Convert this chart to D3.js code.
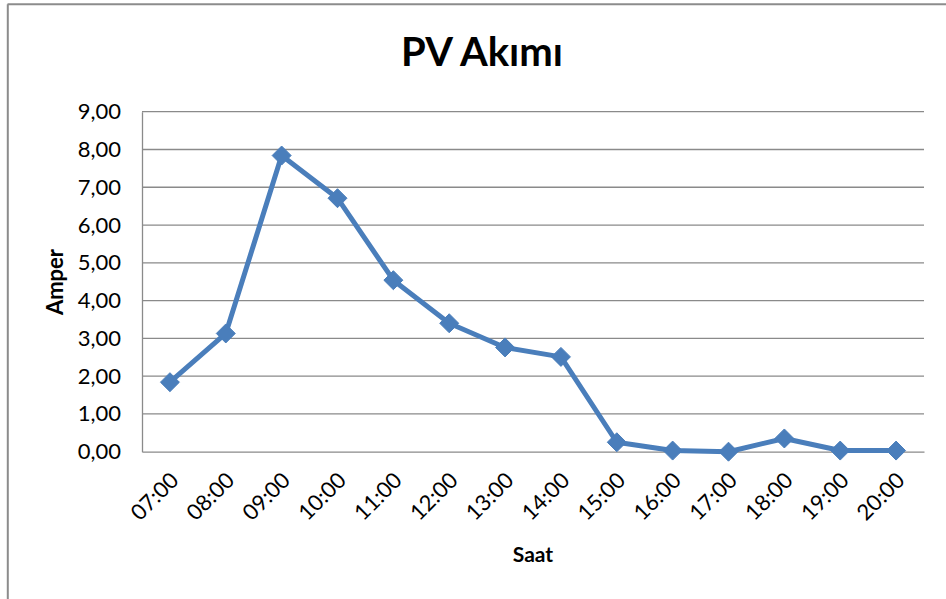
<!DOCTYPE html>
<html>
<head>
<meta charset="utf-8">
<script src="https://cdn.jsdelivr.net/npm/d3@7"></script>
<style>
  html, body { margin: 0; padding: 0; background: #fff; }
  svg { display: block; }
  text { font-family: Lato, "Open Sans", sans-serif; fill: #000; }
</style>
</head>
<body>
<svg id="chart" width="946" height="599"></svg>
<script>
// Hourly PV current readings (A)
const hours = ["07:00","08:00","09:00","10:00","11:00","12:00","13:00",
               "14:00","15:00","16:00","17:00","18:00","19:00","20:00"];
const amps = [1.84, 3.13, 7.84, 6.71, 4.54, 3.40, 2.76,
              2.51, 0.25, 0.03, 0.00, 0.35, 0.03, 0.03];
const yTicks = [0,1,2,3,4,5,6,7,8,9];
const titleText = "PV Akımı";
const xTitle = "Saat";
const yTitle = "Amper";

const svg = d3.select("#chart");
const W = 946, H = 599;
const plot = { left: 142, right: 924, top: 111.7, bottom: 451.7 };

// chart frame (top and left edges)
svg.append("line").attr("x1", 7.5).attr("x2", W).attr("y1", 4.3).attr("y2", 4.3)
  .attr("stroke", "#8c8c8c").attr("stroke-width", 2);
svg.append("line").attr("x1", 7.8).attr("x2", 7.8).attr("y1", 4.3).attr("y2", H)
  .attr("stroke", "#8c8c8c").attr("stroke-width", 2);

const x = d3.scaleBand().domain(hours).range([plot.left, plot.right]);
const y = d3.scaleLinear().domain([0, 9]).range([plot.bottom, plot.top]);

// horizontal gridlines
svg.append("g").selectAll("line").data(yTicks.filter(d => d > 0)).join("line")
  .attr("x1", plot.left).attr("x2", plot.right)
  .attr("y1", d => y(d)).attr("y2", d => y(d))
  .attr("stroke", "#8a8a8a").attr("stroke-width", 1.3);

// y axis
const yAxis = svg.append("g").attr("transform", `translate(${plot.left},0)`)
  .call(d3.axisLeft(y).tickValues(yTicks).tickSize(0).tickPadding(21)
    .tickFormat(d => d3.format(".2f")(d).replace(".", ",")));
yAxis.select(".domain").attr("stroke", "#8a8a8a").attr("stroke-width", 1.3);
yAxis.selectAll("text").attr("font-size", 22).attr("font-family", "Lato").attr("fill", "#000");

// x axis
const xAxis = svg.append("g").attr("transform", `translate(0,${plot.bottom})`)
  .call(d3.axisBottom(x).tickSize(0).tickPadding(0));
xAxis.select(".domain").attr("stroke", "#8a8a8a").attr("stroke-width", 1.3);
xAxis.selectAll("text")
  .attr("font-size", 22).attr("font-family", "Lato").attr("fill", "#000")
  .attr("text-anchor", "end").attr("dy", 0).attr("y", 0)
  .attr("transform", "translate(10,30) rotate(-45)");

// series line
const line = d3.line()
  .x((d, i) => x(hours[i]) + x.bandwidth() / 2)
  .y(d => y(d));
svg.append("path").datum(amps).attr("d", line)
  .attr("fill", "none").attr("stroke", "#4a7ebb").attr("stroke-width", 5)
  .attr("stroke-linejoin", "round");

// diamond markers
const diamond = d3.symbol().type(d3.symbolDiamond2).size(230);
svg.append("g").selectAll("path").data(amps).join("path")
  .attr("d", diamond)
  .attr("transform", (d, i) => `translate(${x(hours[i]) + x.bandwidth() / 2},${y(d)})`)
  .attr("fill", "#4a7ebb").attr("stroke", "#4a7ebb").attr("stroke-width", 1);

// titles
svg.append("text").attr("x", 482).attr("y", 66).attr("text-anchor", "middle")
  .attr("font-size", 40).attr("font-weight", "bold").text(titleText);
svg.append("text").attr("x", (plot.left + plot.right) / 2).attr("y", 562)
  .attr("text-anchor", "middle").attr("font-size", 21).attr("font-weight", "bold").text(xTitle);
svg.append("text").attr("transform", "translate(63,282) rotate(-90)")
  .attr("text-anchor", "middle").attr("font-size", 22).attr("font-weight", "bold").text(yTitle);
</script>
</body>
</html>
